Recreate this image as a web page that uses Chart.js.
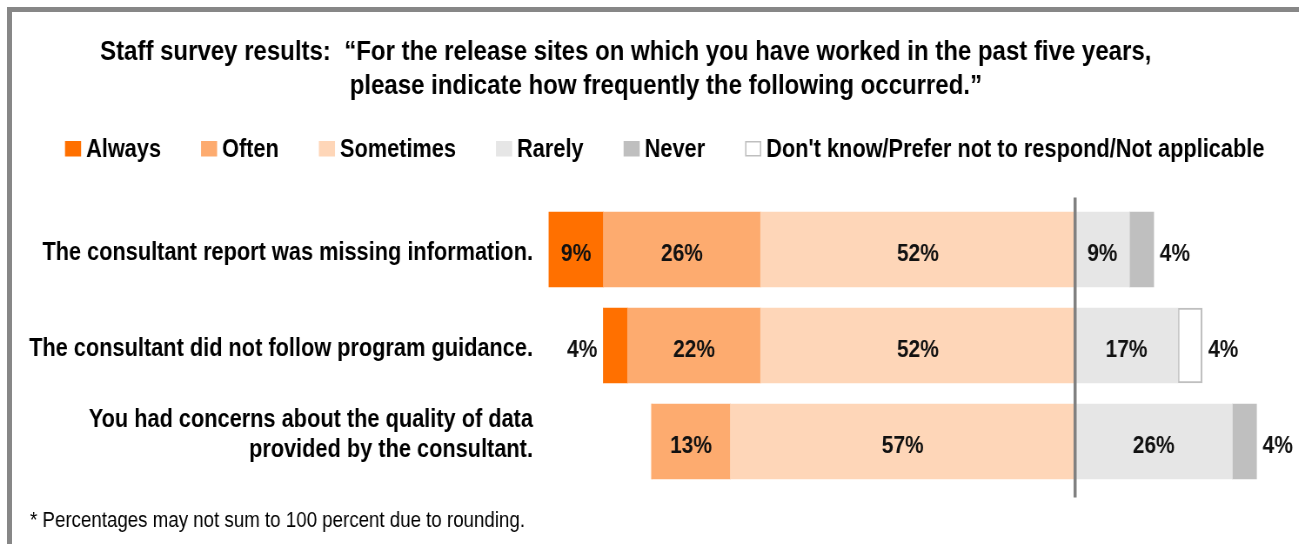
<!DOCTYPE html>
<html><head><meta charset="utf-8">
<script src="https://cdn.jsdelivr.net/npm/chart.js@4.4.0/dist/chart.umd.min.js"></script>
<style>
html,body{margin:0;padding:0;background:#fff;overflow:hidden;width:1299px;height:544px;}
#frame{position:absolute;left:7px;top:7px;width:1400px;height:600px;border-top:5px solid #878787;border-left:5px solid #878787;box-sizing:border-box;}
#wrap{position:absolute;left:0;top:0;width:1493px;height:544px;transform:scaleX(0.87);transform-origin:0 0;}
</style></head><body>
<div id="frame"></div>
<div id="wrap"><canvas id="c"></canvas></div>
<script>
// ---- data ----
const categories = [
  ["The consultant report was missing information."],
  ["The consultant did not follow program guidance."],
  ["You had concerns about the quality of data", "provided by the consultant."]
];
const always    = [9, 4, 0];
const often     = [26, 22, 13];
const sometimes = [52, 52, 57];
const rarely    = [9, 17, 26];
const never     = [4, 0, 4];
const dontKnow  = [0, 4, 0];
const seriesNames = ["Always", "Often", "Sometimes", "Rarely", "Never", "Don't know/Prefer not to respond/Not applicable"];
const titleLines = [
  "Staff survey results:  \u201cFor the release sites on which you have worked in the past five years,",
  "please indicate how frequently the following occurred.\u201d"
];
const footnote = "* Percentages may not sum to 100 percent due to rounding.";

// ---- styles ----
const FONT = "'Liberation Sans', Arial, Helvetica, sans-serif";
const colors = {
  Always: "#FF7000", Often: "#FDAB6F", Sometimes: "#FED6B8",
  Rarely: "#E6E6E6", Never: "#BFBFBF", DK: "#FFFFFF"
};
const neg = a => a.map(v => -v);

const datasets = [
  { label: seriesNames[2], data: neg(sometimes), backgroundColor: colors.Sometimes, side: -1 },
  { label: seriesNames[1], data: neg(often), backgroundColor: colors.Often, side: -1 },
  { label: seriesNames[0], data: neg(always), backgroundColor: colors.Always, side: -1 },
  { label: seriesNames[3], data: rarely, backgroundColor: colors.Rarely, side: 1 },
  { label: seriesNames[4], data: never, backgroundColor: colors.Never, side: 1 },
  { label: seriesNames[5], data: dontKnow, backgroundColor: colors.DK, borderColor: "#BFBFBF", borderWidth: 2, side: 1 }
].map(d => Object.assign({ stack: "s", barThickness: 75, borderSkipped: false, borderWidth: d.borderWidth || 0 }, d));

const legendItems = [
  { text: seriesNames[0], fill: colors.Always },
  { text: seriesNames[1], fill: colors.Often },
  { text: seriesNames[2], fill: colors.Sometimes },
  { text: seriesNames[3], fill: colors.Rarely },
  { text: seriesNames[4], fill: colors.Never },
  { text: seriesNames[5], fill: colors.DK, stroke: "#BFBFBF" }
];

const decorPlugin = {
  id: "decor",
  afterDraw(chart) {
    const ctx = chart.ctx;
    ctx.save();
    ctx.fillStyle = "#000";
    ctx.textBaseline = "alphabetic";
    // title
    ctx.font = "bold 27.6px " + FONT;
    ctx.textAlign = "left";
    ctx.fillText(titleLines[0], 115, 60);
    ctx.fillText(titleLines[1], 402, 94);
    // legend
    ctx.font = "bold 25px " + FONT;
    let x = 74.7;
    legendItems.forEach(it => {
      ctx.fillStyle = it.fill;
      ctx.fillRect(x, 141, 18.5, 15.5);
      if (it.stroke) { ctx.strokeStyle = it.stroke; ctx.lineWidth = 1.5; ctx.strokeRect(x + 0.75, 141.75, 17, 14); }
      ctx.fillStyle = "#000";
      ctx.fillText(it.text, x + 24.2, 157);
      x += 24.2 + ctx.measureText(it.text).width + 46;
    });
    // category labels (y axis)
    const ys = chart.scales.y;
    ctx.font = "bold 25px " + FONT;
    ctx.textAlign = "right";
    categories.forEach((lines, i) => {
      const yc = ys.getPixelForValue(i);
      const n = lines.length;
      const off = n === 1 ? 10 : 0;
      lines.forEach((ln, k) => {
        ctx.fillText(ln, 612.6, yc + off + (k - (n - 1) / 2) * 30);
      });
    });
    // footnote
    ctx.textAlign = "left";
    ctx.font = "21.5px " + FONT;
    ctx.fillText(footnote, 34.5, 527);
    ctx.restore();
  },
  afterDatasetsDraw(chart) {
    const ctx = chart.ctx;
    const xs = chart.scales.x;
    const area = chart.chartArea;
    ctx.save();
    // center line
    const x0 = xs.getPixelForValue(0);
    ctx.strokeStyle = "#808080";
    ctx.lineWidth = 3.5;
    ctx.beginPath();
    ctx.moveTo(x0, area.top - 4);
    ctx.lineTo(x0, area.bottom + 8);
    ctx.stroke();
    // value labels
    ctx.font = "bold 24px " + FONT;
    ctx.fillStyle = "#111";
    ctx.textBaseline = "alphabetic";
    chart.data.datasets.forEach((ds, i) => {
      const meta = chart.getDatasetMeta(i);
      meta.data.forEach((el, j) => {
        const v = Math.abs(ds.data[j]);
        if (!v) return;
        const txt = v + "%";
        const ty = el.y + 11;
        const lo = Math.min(el.x, el.base), hi = Math.max(el.x, el.base);
        if (v >= 5) {
          ctx.textAlign = "center";
          ctx.fillText(txt, (lo + hi) / 2, ty);
        } else if (ds.side < 0) {
          ctx.textAlign = "right";
          ctx.fillText(txt, lo - 7, ty);
        } else {
          ctx.textAlign = "left";
          ctx.fillText(txt, hi + 7, ty);
        }
      });
    });
    ctx.restore();
  }
};

new Chart(document.getElementById("c"), {
  type: "bar",
  data: { labels: categories.map(l => l.join(" ")), datasets },
  options: {
    indexAxis: "y",
    responsive: true,
    maintainAspectRatio: false,
    animation: false,
    layout: { padding: { left: 617, right: 7, top: 201.5, bottom: 54.5 } },
    plugins: { legend: { display: false }, tooltip: { enabled: false }, title: { display: false } },
    scales: {
      x: { stacked: true, min: -89, max: 36, display: false },
      y: { stacked: true, display: false }
    }
  },
  plugins: [decorPlugin]
});
</script>
</body></html>
